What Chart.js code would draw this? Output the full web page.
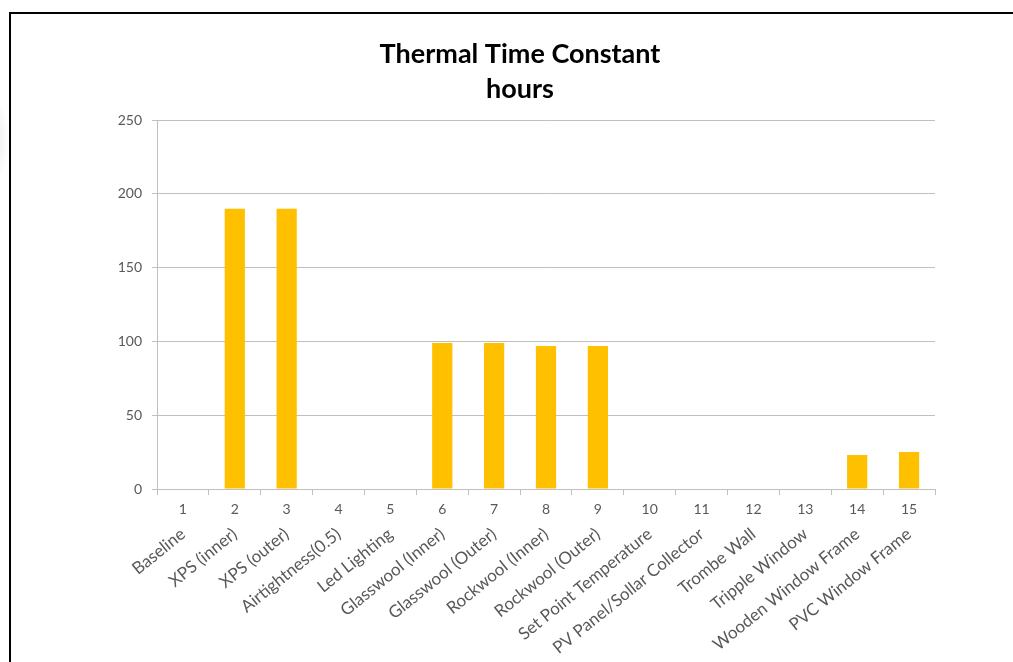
<!DOCTYPE html>
<html><head><meta charset="utf-8">
<script src="https://cdn.jsdelivr.net/npm/chart.js@4"></script>
<style>
html,body{margin:0;padding:0;background:#fff;width:1013px;height:662px;overflow:hidden;}
#frame{position:absolute;left:9px;top:12px;width:1100px;height:700px;border:2px solid #000;box-sizing:border-box;}
#shadow{position:absolute;left:-30px;top:95px;width:40px;height:90px;background:radial-gradient(ellipse at center,rgba(0,0,0,0.10),rgba(0,0,0,0) 70%);}
#wrap{position:absolute;left:0;top:0;width:1013px;height:662px;}
</style></head>
<body>
<div id="shadow"></div>
<div id="frame"></div>
<div id="wrap"><canvas id="c" width="1013" height="662"></canvas></div>
<script>
const categories = ['1','2','3','4','5','6','7','8','9','10','11','12','13','14','15'];
const scenarioNames = ['Baseline','XPS (inner)','XPS (outer)','Airtightness(0.5)','Led Lighting','Glasswool (Inner)','Glasswool (Outer)','Rockwool (Inner)','Rockwool (Outer)','Set Point Temperature','PV Panel/Sollar Collector','Trombe Wall','Tripple Window','Wooden Window Frame','PVC Window Frame'];
const timeConstantHours = [0,190,190,0,0,99,99,97,97,0,0,0,0,23,25];
const yTicks = [0,50,100,150,200,250];

const FONT = 'Lato, "Open Sans", sans-serif';
const TXT = '#595959';

new Chart(document.getElementById('c'), {
  type: 'bar',
  data: {
    labels: categories,
    datasets: [{
      data: timeConstantHours,
      backgroundColor: '#FFC000',
      borderWidth: 0,
      barPercentage: 0.39,
      categoryPercentage: 1.0,
      xAxisID: 'x', yAxisID: 'y'
    }]
  },
  options: {
    responsive: false,
    animation: false,
    devicePixelRatio: 1,
    layout: { padding: { left: 105, right: 78, top: 0, bottom: 0 } },
    plugins: {
      legend: { display: false },
      tooltip: { enabled: false },
      title: {
        display: true,
        text: ['Thermal Time Constant', 'hours'],
        color: '#000',
        font: { family: FONT, size: 27, weight: 'bold', lineHeight: 1.3 },
        padding: { top: 37, bottom: 13 }
      }
    },
    scales: {
      x: {
        type: 'category',
        position: 'bottom',
        offset: true,
        grid: { display: true, drawOnChartArea: false, offset: true, tickLength: 6, color: '#bfbfbf' },
        border: { display: true, color: '#bfbfbf', width: 1 },
        ticks: { color: TXT, font: { family: FONT, size: 14 }, padding: 6, maxRotation: 0, minRotation: 0, autoSkip: false },
        afterFit: s => { s.height = 30; }
      },
      x2: {
        type: 'category',
        labels: scenarioNames,
        position: 'bottom',
        offset: true,
        grid: { display: false },
        border: { display: false },
        ticks: { color: TXT, font: { family: FONT, size: 17 }, padding: -3, maxRotation: 39, minRotation: 39, autoSkip: false },
        afterFit: s => { s.height = 143; }
      },
      y: {
        min: 0, max: 250,
        afterBuildTicks: s => { s.ticks = yTicks.map(v => ({ value: v })); },
        grid: { color: '#bfbfbf', tickLength: 5, lineWidth: 1 },
        border: { display: true, color: '#bfbfbf' },
        ticks: { color: TXT, font: { family: FONT, size: 14 }, padding: 10 },
        afterFit: s => { s.width = 52; }
      }
    }
  }
});
</script>
</body></html>
